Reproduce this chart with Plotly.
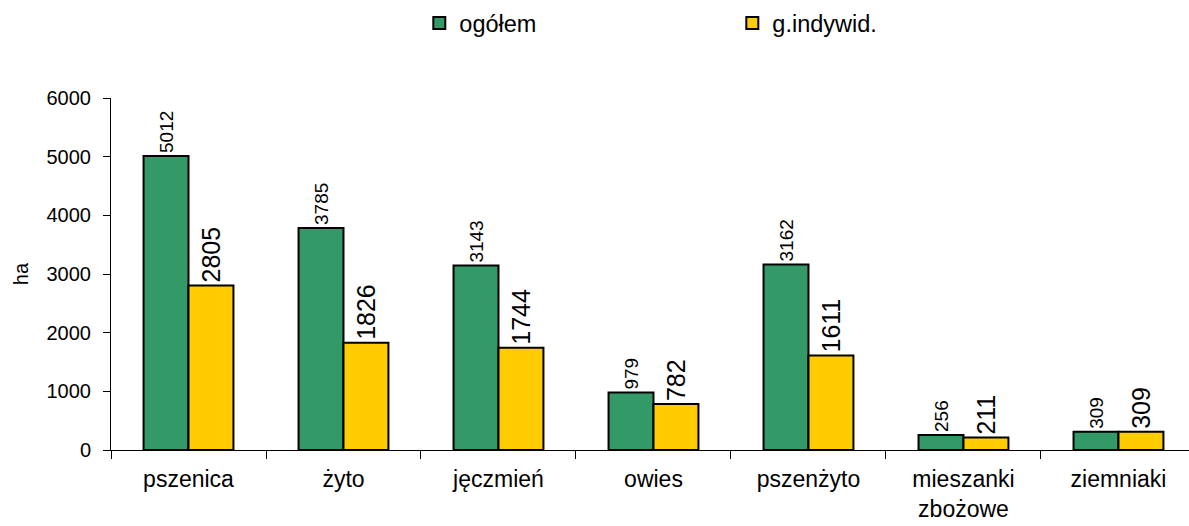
import plotly.graph_objects as go

categories = ["pszenica", "żyto", "jęczmień", "owies", "pszenżyto", "mieszanki<br>zbożowe", "ziemniaki"]
ogolem = [5012, 3785, 3143, 979, 3162, 256, 309]
indywid = [2805, 1826, 1744, 782, 1611, 211, 309]
y_ticks = [0, 1000, 2000, 3000, 4000, 5000, 6000]

FONT = "Liberation Sans, Arial, sans-serif"

fig = go.Figure()
fig.add_trace(go.Bar(
    name="ogółem", x=categories, y=ogolem,
    marker=dict(color="#339966", line=dict(color="black", width=2)),
    text=[str(v) for v in ogolem], textposition="outside", textangle=-90,
    textfont=dict(family=FONT, size=19, color="black"), cliponaxis=False,
    constraintext="none",
))
fig.add_trace(go.Bar(
    name="g.indywid.", x=categories, y=indywid,
    marker=dict(color="#FFCC00", line=dict(color="black", width=2)),
    text=[str(v) for v in indywid], textposition="outside", textangle=-90,
    textfont=dict(family=FONT, size=25, color="black"), cliponaxis=False,
    constraintext="none",
))

fig.update_layout(
    width=1189, height=526,
    margin=dict(l=111, r=0, t=98, b=76, autoexpand=False),
    paper_bgcolor="white", plot_bgcolor="white",
    barmode="group", bargap=0.42, bargroupgap=0,
    font=dict(family=FONT, size=20, color="black"),
    showlegend=True,
    legend=dict(orientation="h", x=0.286, xanchor="left", yref="container",
                y=0.956, yanchor="middle",
                entrywidth=268, font=dict(size=23.5), traceorder="normal"),
    xaxis=dict(range=[-0.5, 6.455], showline=True, linecolor="black", linewidth=1,
               ticks="outside", tickson="boundaries", ticklen=8, tickcolor="black",
               showgrid=False, tickfont=dict(size=23), automargin=False,
               ticklabelstandoff=8),
    yaxis=dict(range=[0, 6000], tickvals=y_ticks, showline=True, linecolor="black",
               linewidth=1, ticks="outside", ticklen=7, tickcolor="black",
               showgrid=False, zeroline=False, tickfont=dict(size=20), automargin=False,
               ticklabelstandoff=8,
               title=dict(text="ha", font=dict(size=20), standoff=12)),
)

fig.write_html("out.html", config={"displayModeBar": False},
               post_script="document.body.style.margin='0';document.body.style.overflow='hidden';")
